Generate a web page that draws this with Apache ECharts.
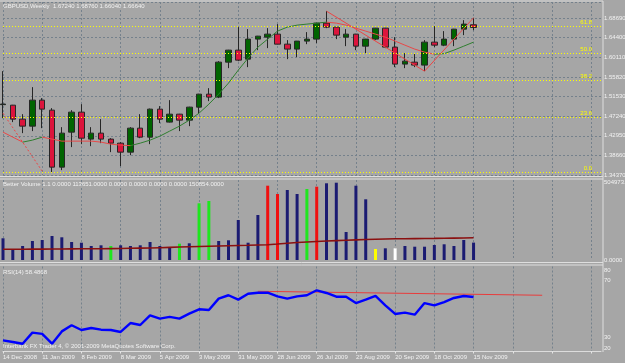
<!DOCTYPE html>
<html>
<head>
<meta charset="utf-8">
<script src="https://cdn.jsdelivr.net/npm/echarts@6/dist/echarts.min.js"></script>
<style>
  html, body { margin: 0; padding: 0; background: #a6a6a6; overflow: hidden; }
  #chart { width: 650px; height: 363px; }
</style>
</head>
<body>
<div id="chart"></div>
<script>
// weekly bars, 14 Dec 2008 .. 15 Nov 2009
const weeks = ['14 Dec 2008', '21 Dec 2008', '28 Dec 2008', '4 Jan 2009', '11 Jan 2009', '18 Jan 2009', '25 Jan 2009',
  '1 Feb 2009', '8 Feb 2009', '15 Feb 2009', '22 Feb 2009', '1 Mar 2009', '8 Mar 2009', '15 Mar 2009', '22 Mar 2009',
  '29 Mar 2009', '5 Apr 2009', '12 Apr 2009', '19 Apr 2009', '26 Apr 2009', '3 May 2009', '10 May 2009', '17 May 2009',
  '24 May 2009', '31 May 2009', '7 Jun 2009', '14 Jun 2009', '21 Jun 2009', '28 Jun 2009', '5 Jul 2009', '12 Jul 2009',
  '19 Jul 2009', '26 Jul 2009', '2 Aug 2009', '9 Aug 2009', '16 Aug 2009', '23 Aug 2009', '30 Aug 2009', '6 Sep 2009',
  '13 Sep 2009', '20 Sep 2009', '27 Sep 2009', '4 Oct 2009', '11 Oct 2009', '18 Oct 2009', '25 Oct 2009', '1 Nov 2009',
  '8 Nov 2009', '15 Nov 2009'];
const emptySlots = 13; // free space on the right of the chart

const opens = [1.4976, 1.4965, 1.4659, 1.4506, 1.5075, 1.4856, 1.3609, 1.4375, 1.4812, 1.4222, 1.4353, 1.4222, 1.4134,
  1.3937, 1.4462, 1.4265, 1.4878, 1.4594, 1.4768, 1.4637, 1.4922, 1.5206, 1.5141, 1.5906, 1.6169, 1.5972, 1.6410,
  1.6453, 1.6519, 1.6300, 1.6191, 1.6366, 1.6410, 1.6760, 1.6672, 1.6453, 1.6519, 1.6256, 1.6410, 1.6650, 1.6235,
  1.5863, 1.5906, 1.5841, 1.6344, 1.6278, 1.6410, 1.6628, 1.6724];
const closes = [1.4990, 1.4659, 1.4506, 1.5075, 1.4878, 1.3609, 1.4353, 1.4812, 1.4243, 1.4353, 1.4222, 1.4134, 1.3937,
  1.4462, 1.4265, 1.4878, 1.4659, 1.4768, 1.4637, 1.4922, 1.5206, 1.5141, 1.5906, 1.6169, 1.5950, 1.6410, 1.6475,
  1.6519, 1.6300, 1.6191, 1.6366, 1.6410, 1.6760, 1.6672, 1.6497, 1.6519, 1.6256, 1.6410, 1.6650, 1.6235, 1.5863,
  1.5928, 1.5841, 1.6344, 1.6278, 1.6410, 1.6628, 1.6738, 1.6664];
const lows = [1.4681, 1.4594, 1.4353, 1.4397, 1.4462, 1.3500, 1.3543, 1.4047, 1.4112, 1.4068, 1.4134, 1.3937, 1.3631,
  1.3871, 1.4243, 1.4112, 1.4572, 1.4585, 1.4397, 1.4506, 1.4790, 1.5053, 1.5119, 1.5775, 1.5928, 1.5797, 1.6169,
  1.6213, 1.6295, 1.5972, 1.6016, 1.6300, 1.6322, 1.6650, 1.6410, 1.6256, 1.6169, 1.6103, 1.6388, 1.6213, 1.5797,
  1.5775, 1.5797, 1.5709, 1.6235, 1.6256, 1.6256, 1.6497, 1.6604];
const highs = [1.5709, 1.4970, 1.4768, 1.5359, 1.5119, 1.4900, 1.4484, 1.4856, 1.4987, 1.4484, 1.4659, 1.4243, 1.4156,
  1.4484, 1.4768, 1.4890, 1.4944, 1.5075, 1.4775, 1.4930, 1.5213, 1.5337, 1.5928, 1.6175, 1.6672, 1.6628, 1.6480,
  1.6650, 1.6738, 1.6388, 1.6370, 1.6563, 1.6765, 1.7022, 1.6680, 1.6628, 1.6525, 1.6415, 1.6655, 1.6655, 1.6453,
  1.6103, 1.6103, 1.6388, 1.6694, 1.6585, 1.6633, 1.6825, 1.6876];

// moving average on price (green rising / red falling)
const maPrice = [1.4375, 1.4265, 1.4156, 1.4200, 1.4265, 1.4222, 1.4178, 1.4178, 1.4178, 1.4178, 1.4156, 1.4112, 1.4090,
  1.4080, 1.4134, 1.4200, 1.4287, 1.4397, 1.4506, 1.4637, 1.4790, 1.4987, 1.5206, 1.5447, 1.5731, 1.5994, 1.6234,
  1.6410, 1.6585, 1.6672, 1.6716, 1.6738, 1.6760, 1.6781, 1.6760, 1.6716, 1.6650, 1.6585, 1.6519, 1.6453, 1.6366,
  1.6278, 1.6191, 1.6125, 1.6081, 1.6092, 1.6169, 1.6256, 1.6344];

// zigzag turning points (bar index, price)
const zigIdx = [33, 43, 48];
const zigPrice = [1.7022, 1.5709, 1.6876];
const oldZigIdx = [0, 4];
const oldZigPrice = [1.4790, 1.3521];

// fibonacci retracement
const fibNames = ['0.0', '23.6', '38.2', '50.0', '61.8'];
const fibPrices = [1.3500, 1.4720, 1.5474, 1.6084, 1.6694];

// price scale
const priceMin = 1.3437, priceMax = 1.7222, priceStep = 0.0429;

// Better Volume
const volumes = [141800, 69900, 91500, 124100, 130700, 156800, 148300, 117600, 113000, 91500, 96000, 91500, 96000,
  91500, 96000, 117600, 91500, 80400, 106500, 109100, 370400, 385400, 124100, 128700, 261300, 113000, 294000,
  485400, 431200, 457300, 431200, 463800, 478900, 501100, 504973, 182900, 485400, 396600, 71900, 76400, 76400,
  91500, 86900, 86900, 98000, 102600, 91500, 130700, 113651];
const volTypes = ['b', 'b', 'b', 'b', 'b', 'b', 'b', 'b', 'b', 'b', 'b', 'g', 'b', 'b', 'b', 'b', 'b', 'b', 'g', 'b',
  'g', 'g', 'b', 'b', 'b', 'b', 'b', 'r', 'r', 'b', 'b', 'g', 'r', 'b', 'b', 'b', 'b', 'b', 'y', 'b', 'w', 'b', 'b',
  'b', 'b', 'b', 'b', 'b', 'b'];
const volAvg = [69900, 70200, 70500, 70800, 71200, 71900, 72300, 72700, 73100, 73500, 73800, 74600, 75500, 76400,
  77400, 78400, 80400, 82500, 84600, 86900, 88400, 90000, 91500, 93000, 94500, 96000, 98000, 100000, 104600, 109500,
  114300, 117600, 120900, 123800, 126700, 129200, 131600, 133900, 135400, 137000, 138500, 139200, 139800, 140500,
  141100, 142000, 143000, 144000, 145500];
const volMax = 522640;
const volTop = 504973;

// RSI(14)
const rsi = [27.9, 26.7, 25.5, 33.3, 32.4, 25.5, 34.2, 38.5, 35.2, 36.6, 35.4, 35.2, 33.8, 40.1, 38.7, 45.5, 43.2,
  44.4, 43.2, 46.7, 49.8, 49.3, 57.3, 59.7, 56.6, 60.8, 61.5, 61.5, 58.9, 57.3, 58.9, 59.7, 63.2, 61.3, 58.7, 58.7,
  54.2, 56.6, 59.2, 52.6, 46.5, 47.4, 46.0, 54.2, 52.6, 54.9, 57.8, 59.2, 58.5];
const rsiTrendIdx = [26, 55];
const rsiTrendVal = [62.5, 59.7];

const txt = '#f2f2f2';
const gridCol = '#75818c';
const fnt = 'Liberation Sans';

const n = weeks.length;
const cats = weeks.concat(Array.from({length: emptySlots}, (_, i) => 'x' + i));
const total = cats.length;

function sparse(idx, vals) {
  const arr = new Array(total).fill(null);
  idx.forEach((k, j) => { arr[k] = vals[j]; });
  return arr;
}

// split the MA into rising / falling pieces
const maUp = new Array(total).fill(null);
const maDown = new Array(total).fill(null);
for (let i = 0; i < n - 1; i++) {
  const target = maPrice[i + 1] > maPrice[i] ? maUp : maDown;
  target[i] = maPrice[i];
  target[i + 1] = maPrice[i + 1];
}

const volColors = {b: '#1b1b72', g: '#1ee61e', r: '#f01010', y: '#ffff00', w: '#ffffff'};
const volData = volumes.map((v, i) => ({value: v, itemStyle: {color: volColors[volTypes[i]]}}));

const last = n - 1;
const headText = 'GBPUSD,Weekly  ' + [opens[last], highs[last], lows[last], closes[last]].map(v => v.toFixed(5)).join(' ');

// plot area ends at x=601; the canvas is wider than the window so long labels get cut like in the terminal
const gridRight = 650 - 601;

function xAx(idx, withLabels) {
  return {
    type: 'category', gridIndex: idx, data: cats, boundaryGap: false,
    axisLine: {show: withLabels, lineStyle: {color: '#dcdcdc'}},
    axisTick: {show: withLabels, interval: 3, length: 2, lineStyle: {color: '#e6e6e6'}},
    axisLabel: {
      show: withLabels, interval: 3, align: 'left', fontSize: 6, fontFamily: fnt, color: txt, margin: 3,
      formatter: (v, i) => (i < n ? v : '')
    },
    splitLine: {show: true, interval: 3, lineStyle: {color: gridCol, type: [2, 2]}}
  };
}

const titleStyle = {fontSize: 6, fontFamily: fnt, color: txt, fontWeight: 'normal'};

const option = {
  backgroundColor: '#a6a6a6',
  animation: false,
  title: [
    {text: headText, left: 3, top: 3, padding: 0, textStyle: titleStyle},
    {text: 'Better Volume 1.1 0.0000 113651.0000 0.0000 0.0000 0.0000 0.0000 150854.0000', left: 3, top: 181, padding: 0, textStyle: titleStyle},
    {text: 'RSI(14) 58.4868', left: 3, top: 269, padding: 0, textStyle: titleStyle},
    {text: 'Interbank FX Trader 4, © 2001-2009 MetaQuotes Software Corp.', left: 3, top: 343, padding: 0, textStyle: titleStyle}
  ],
  grid: [
    {left: 3, right: gridRight, top: 2, height: 173},
    {left: 3, right: gridRight, top: 180, height: 80},
    {left: 3, right: gridRight, top: 266.5, height: 85}
  ],
  xAxis: [xAx(0, false), xAx(1, false), xAx(2, true)],
  yAxis: [
    {
      type: 'value', gridIndex: 0, position: 'right', min: priceMin, max: priceMax, interval: priceStep,
      axisLine: {show: false}, axisTick: {show: false},
      axisLabel: {fontSize: 6, fontFamily: fnt, color: txt, margin: 3, showMaxLabel: false, formatter: v => v.toFixed(5)},
      splitLine: {show: true, lineStyle: {color: gridCol, type: [2, 2]}}
    },
    {
      type: 'value', gridIndex: 1, position: 'right', min: 0, max: volMax, interval: volTop,
      axisLine: {show: false}, axisTick: {show: false}, splitLine: {show: false},
      axisLabel: {fontSize: 6, fontFamily: fnt, color: txt, margin: 3, showMaxLabel: false, formatter: v => v.toFixed(4)}
    },
    {
      type: 'value', gridIndex: 2, position: 'right', min: 20, max: 80, interval: 10,
      axisLine: {show: false}, axisTick: {show: false}, splitLine: {show: false},
      axisLabel: {
        fontSize: 6, fontFamily: fnt, color: txt, margin: 3,
        formatter: v => (v === 80 ? '{t|80}' : v === 20 ? '{b|20}' : (v === 70 || v === 30) ? String(v) : ''),
        rich: {t: {fontSize: 6, fontFamily: fnt, color: txt, padding: [8, 0, 0, 0]}, b: {fontSize: 6, fontFamily: fnt, color: txt, padding: [0, 0, 6, 0]}}
      }
    }
  ],
  graphic: [
    {type: 'line', silent: true, shape: {x1: 0, y1: 1, x2: 603, y2: 1}, style: {stroke: '#dedede', lineWidth: 1}},
    {type: 'line', silent: true, shape: {x1: 0, y1: 176.5, x2: 603, y2: 176.5}, style: {stroke: '#dedede', lineWidth: 1}},
    {type: 'line', silent: true, shape: {x1: 0, y1: 179, x2: 603, y2: 179}, style: {stroke: '#dedede', lineWidth: 1}},
    {type: 'line', silent: true, shape: {x1: 0, y1: 262.5, x2: 603, y2: 262.5}, style: {stroke: '#dedede', lineWidth: 1}},
    {type: 'line', silent: true, shape: {x1: 0, y1: 265, x2: 603, y2: 265}, style: {stroke: '#dedede', lineWidth: 1}},
    {type: 'line', silent: true, shape: {x1: 603, y1: 1, x2: 603, y2: 352}, style: {stroke: '#dedede', lineWidth: 1}}
  ],
  series: [
    {
      type: 'candlestick', xAxisIndex: 0, yAxisIndex: 0, barWidth: 6, clip: false, z: 3,
      data: opens.map((o, i) => [o, closes[i], lows[i], highs[i]]),
      itemStyle: {color: '#006400', color0: '#dc143c', borderColor: '#262626', borderColor0: '#262626', borderWidth: 1},
      markLine: {
        silent: true, symbol: 'none', animation: false,
        data: fibPrices.map((p, i) => ({
          yAxis: p,
          lineStyle: {color: '#ffff00', type: [1, 2], width: 1},
          label: {show: true, position: 'insideEndTop', formatter: fibNames[i], color: '#ffff00', fontSize: 6, fontFamily: fnt, distance: [9, 1]}
        })).concat([{
          yAxis: closes[last],
          lineStyle: {opacity: 0},
          label: {show: true, position: 'end', formatter: closes[last].toFixed(5), color: '#000', backgroundColor: '#ffffff', fontSize: 6, fontFamily: fnt, padding: [1, 2], distance: 1}
        }])
      }
    },
    {type: 'line', xAxisIndex: 0, yAxisIndex: 0, data: maUp, showSymbol: false, z: 4, lineStyle: {color: '#2f7f2f', width: 1}},
    {type: 'line', xAxisIndex: 0, yAxisIndex: 0, data: maDown, showSymbol: false, z: 4, lineStyle: {color: '#e84848', width: 1}},
    {type: 'line', xAxisIndex: 0, yAxisIndex: 0, data: sparse(zigIdx, zigPrice), connectNulls: true, showSymbol: false, z: 4, lineStyle: {color: '#ec4545', width: 1}},
    {type: 'line', xAxisIndex: 0, yAxisIndex: 0, data: sparse(oldZigIdx, oldZigPrice), connectNulls: true, showSymbol: false, z: 4, lineStyle: {color: '#ec4545', width: 1, type: [2, 2]}},
    {type: 'bar', xAxisIndex: 1, yAxisIndex: 1, data: volData, barWidth: 3, clip: false, z: 3},
    {type: 'line', xAxisIndex: 1, yAxisIndex: 1, data: volAvg, showSymbol: false, z: 4, lineStyle: {color: '#8b1010', width: 1.6}},
    {type: 'line', xAxisIndex: 2, yAxisIndex: 2, data: rsi, showSymbol: false, z: 4, lineStyle: {color: '#0000ff', width: 2.4}},
    {type: 'line', xAxisIndex: 2, yAxisIndex: 2, data: sparse(rsiTrendIdx, rsiTrendVal), connectNulls: true, showSymbol: false, z: 3, lineStyle: {color: '#e83c3c', width: 1}}
  ]
};

const chart = echarts.init(document.getElementById('chart'));
chart.setOption(option);
</script>
</body>
</html>
